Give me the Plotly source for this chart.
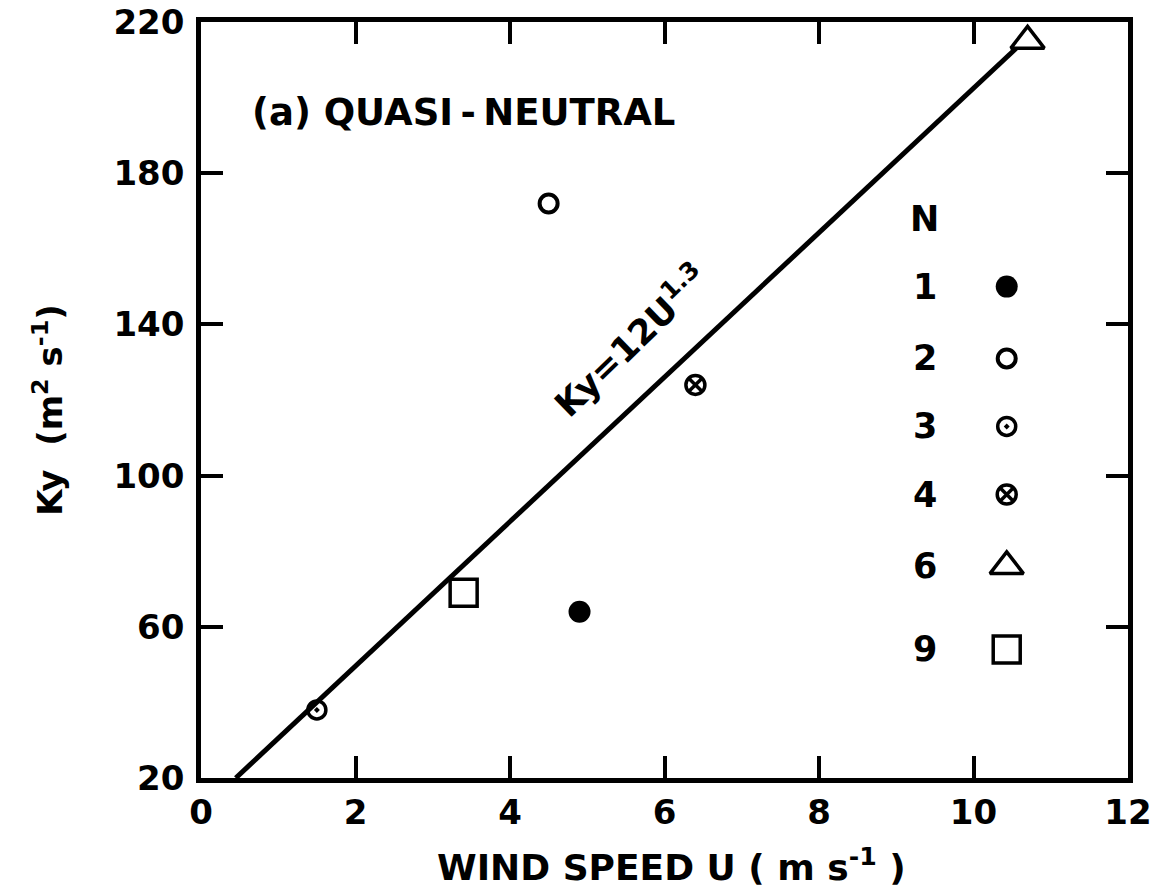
import plotly.graph_objects as go

# ---------------- data ----------------
series_n = ["1", "2", "3", "4", "6", "9"]
wind_speed_u = [4.9, 4.5, 1.5, 6.4, 10.7, 3.4]      # m s^-1
ky_values = [64, 172, 38, 124, 215, 69]             # m^2 s^-1

fit_u = [0.45, 10.55]
fit_ky = [20, 213]

x_tick_vals = [0, 2, 4, 6, 8, 10, 12]
y_tick_vals = [20, 60, 100, 140, 180, 220]

# ---------------- styles ----------------
FONT = "DejaVu Sans"
INK = "#000000"
marker_styles = {
    "1": dict(symbol="circle", size=22, color=INK, line=dict(width=0, color=INK)),
    "2": dict(symbol="circle-open", size=18, color=INK, line=dict(width=4, color=INK)),
    "3": dict(symbol="circle-open-dot", size=18, color=INK, line=dict(width=3.5, color=INK)),
    "4": dict(symbol="circle-x-open", size=19, color=INK, line=dict(width=3.5, color=INK)),
    "6": dict(symbol="triangle-up-open", size=29, color=INK, line=dict(width=3.5, color=INK)),
    "9": dict(symbol="square-open", size=27, color=INK, line=dict(width=3.5, color=INK)),
}

# legend layout (positions in axis units)
legend_symbol_x = 10.43
legend_label_x = 9.37
legend_row_y = [150, 131, 113, 95, 76, 54]
legend_header_y = 168

fig = go.Figure()

# fitted line
fig.add_trace(go.Scatter(
    x=fit_u, y=fit_ky, mode="lines",
    line=dict(color=INK, width=5), hoverinfo="skip", showlegend=False,
    cliponaxis=False,
))

# data points
for n, u, k in zip(series_n, wind_speed_u, ky_values):
    fig.add_trace(go.Scatter(
        x=[u], y=[k], mode="markers", name="N=" + n,
        marker=marker_styles[n], showlegend=False, cliponaxis=False,
    ))

# hand-drawn style key: label then symbol
for n, ly in zip(series_n, legend_row_y):
    fig.add_trace(go.Scatter(
        x=[legend_symbol_x], y=[ly], mode="markers",
        marker=marker_styles[n], showlegend=False, hoverinfo="skip",
    ))
    fig.add_annotation(x=legend_label_x, y=ly, xref="x", yref="y", text=n,
                       showarrow=False, xanchor="center", yanchor="middle",
                       font=dict(family=FONT, size=35, color=INK, weight="bold"))
fig.add_annotation(x=legend_label_x, y=legend_header_y, xref="x", yref="y", text="N",
                   showarrow=False, xanchor="center", yanchor="middle",
                   font=dict(family=FONT, size=35, color=INK, weight="bold"))

# panel label
fig.add_annotation(x=0.053, y=0.88, xref="paper", yref="paper",
                   text="(a) QUASI\u2009-\u2009NEUTRAL", showarrow=False,
                   xanchor="left", yanchor="middle",
                   font=dict(family=FONT, size=37, color=INK, weight="bold"))

# equation along the line
fig.add_annotation(x=5.55, y=136, xref="x", yref="y",
                   text="Ky=12U<sup>1.3</sup>", showarrow=False, textangle=-44,
                   xanchor="center", yanchor="middle",
                   font=dict(family=FONT, size=35, color=INK, weight="bold"))

# axis titles
fig.add_annotation(x=0.508, y=-0.115, xref="paper", yref="paper",
                   text="WIND SPEED U ( m s<sup>-1</sup> )", showarrow=False,
                   xanchor="center", yanchor="middle",
                   font=dict(family=FONT, size=36, color=INK, weight="bold"))
fig.add_annotation(x=-0.165, y=0.487, xref="paper", yref="paper",
                   text="Ky  (m<sup>2</sup> s<sup>-1</sup>)", showarrow=False,
                   textangle=-90, xanchor="center", yanchor="middle",
                   font=dict(family=FONT, size=34, color=INK, weight="bold"))

axis_common = dict(
    showgrid=False, zeroline=False, automargin=False,
    showline=True, linecolor=INK, linewidth=4.5, mirror="ticks",
    ticks="inside", ticklen=22, tickwidth=4, tickcolor=INK,
    ticklabeloverflow="allow",
    tickfont=dict(family=FONT, size=34, color=INK, weight="bold"),
)

fig.update_xaxes(range=[0, 12], tickvals=x_tick_vals,
                 ticktext=[str(v) for v in x_tick_vals],
                 ticklabelstandoff=0, **axis_common)
fig.update_yaxes(range=[20, 220], tickvals=y_tick_vals,
                 ticktext=[str(v) for v in y_tick_vals],
                 ticklabelstandoff=5, **axis_common)

# the page body has an 8px default margin; size the figure to fit the window
fig.update_layout(
    width=1150, height=880,
    margin=dict(l=193, r=30, t=14, b=110),
    paper_bgcolor="white", plot_bgcolor="white",
    showlegend=False,
)

fig.write_html("out.html")
